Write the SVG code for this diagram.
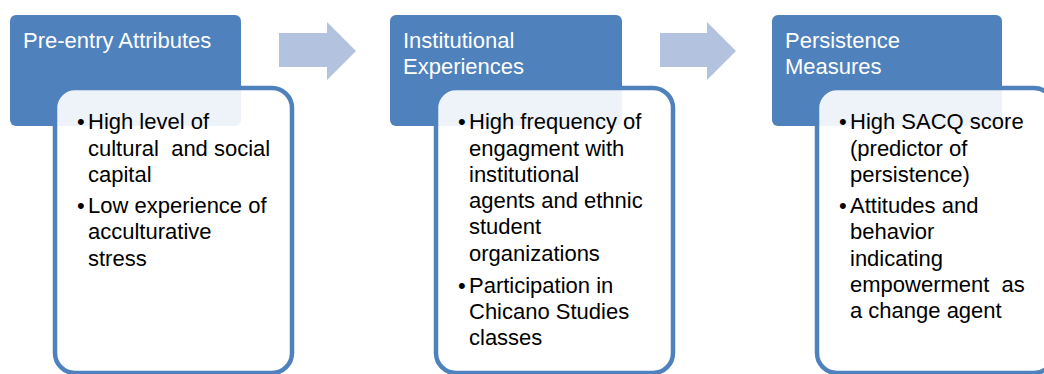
<svg xmlns="http://www.w3.org/2000/svg" width="1044" height="374" viewBox="0 0 1044 374">
  <style>
    .hdr { fill: #4F81BD; }
    .card { fill: #FFFFFF; fill-opacity: 0.9; stroke: #4F81BD; stroke-width: 4.5; }
    .arrow { fill: #B3C3DF; }
    .title { font-family: "Liberation Sans", Arial, sans-serif; font-size: 22px; fill: #FFFFFF; }
    .body { font-family: "Liberation Sans", Arial, sans-serif; font-size: 22px; fill: #000000; white-space: pre; }
  </style>
  <rect width="1044" height="374" fill="#FFFFFF"/>

  <!-- flow arrows between stages -->
  <g id="connectors">
    <polygon class="arrow" points="279,33 327,33 327,22 356,51 327,80 327,67 279,67"/>
    <polygon class="arrow" points="660,33 707,33 707,22 736,51 707,80 707,67 660,67"/>
  </g>

  <!-- stage 1 -->
  <g id="pre-entry">
    <rect class="hdr" x="10" y="15" width="231" height="111" rx="6"/>
    <text class="title" x="23" y="48">Pre-entry Attributes</text>
    <rect class="card" x="55" y="88" width="237" height="285" rx="20"/>
    <g class="body">
      <text x="77" y="129">•</text>
      <text x="88" y="129">High level of</text>
      <text x="88" y="156" xml:space="preserve">cultural  and social</text>
      <text x="88" y="182">capital</text>
      <text x="77" y="213">•</text>
      <text x="88" y="213">Low experience of</text>
      <text x="88" y="239">acculturative</text>
      <text x="88" y="266">stress</text>
    </g>
  </g>

  <!-- stage 2 -->
  <g id="institutional">
    <rect class="hdr" x="390" y="15" width="232" height="111" rx="6"/>
    <text class="title" x="403" y="48">Institutional</text>
    <text class="title" x="403" y="74">Experiences</text>
    <rect class="card" x="436" y="88" width="237" height="285" rx="20"/>
    <g class="body">
      <text x="458" y="129">•</text>
      <text x="469" y="129">High frequency of</text>
      <text x="469" y="156">engagment with</text>
      <text x="469" y="182">institutional</text>
      <text x="469" y="208">agents and ethnic</text>
      <text x="469" y="234">student</text>
      <text x="469" y="261">organizations</text>
      <text x="458" y="293">•</text>
      <text x="469" y="293">Participation in</text>
      <text x="469" y="319">Chicano Studies</text>
      <text x="469" y="345">classes</text>
    </g>
  </g>

  <!-- stage 3 -->
  <g id="persistence">
    <rect class="hdr" x="772" y="15" width="230" height="111" rx="6"/>
    <text class="title" x="785" y="48">Persistence</text>
    <text class="title" x="785" y="74">Measures</text>
    <rect class="card" x="817" y="88" width="237" height="285" rx="20"/>
    <g class="body">
      <text x="839" y="129">•</text>
      <text x="850" y="129">High SACQ score</text>
      <text x="850" y="156">(predictor of</text>
      <text x="850" y="182">persistence)</text>
      <text x="839" y="213">•</text>
      <text x="850" y="213">Attitudes and</text>
      <text x="850" y="239">behavior</text>
      <text x="850" y="266">indicating</text>
      <text x="850" y="292" xml:space="preserve">empowerment  as</text>
      <text x="850" y="318">a change agent</text>
    </g>
  </g>
</svg>
